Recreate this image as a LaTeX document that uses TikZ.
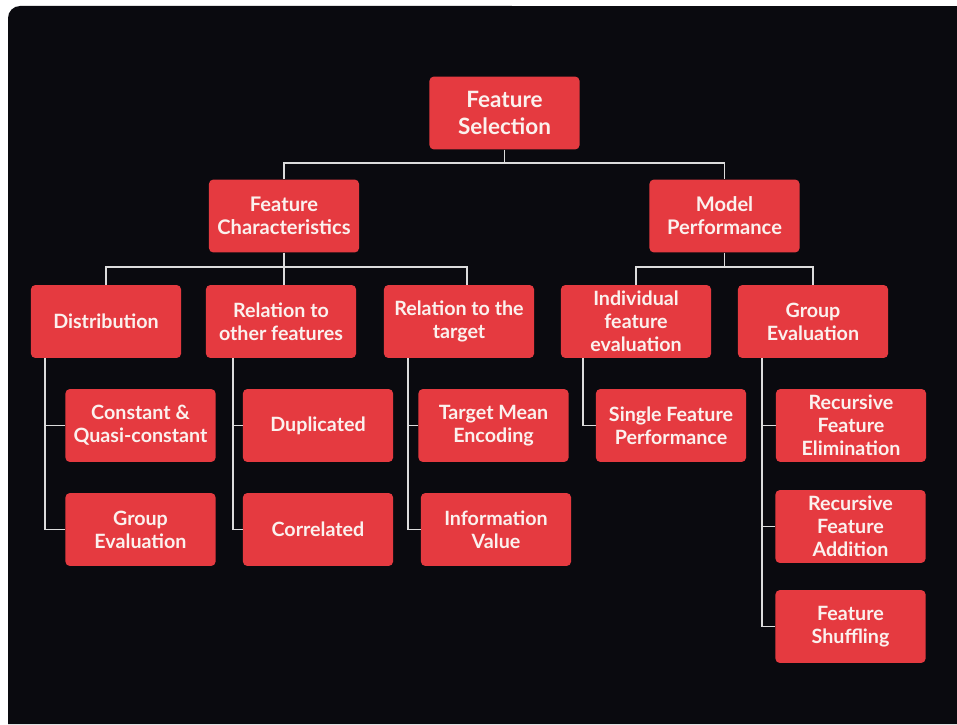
\documentclass[tikz,border=0pt]{standalone}
\usepackage{fontspec}
\setmainfont{Lato}
\usetikzlibrary{positioning,calc}
\definecolor{bgdark}{HTML}{0A0A0F}
\definecolor{boxred}{HTML}{E53A40}
\definecolor{boxtext}{HTML}{FBF1EE}
\definecolor{linkgray}{HTML}{DCDCDC}
\begin{document}
\begin{tikzpicture}[x=0.025cm, y=-0.025cm,
  box/.style={rectangle, rounded corners=3pt, fill=boxred, text=boxtext, align=center,
    minimum width=3.75cm, minimum height=1.82cm, inner sep=2pt, font=\bfseries\fontsize{14}{16.4}\selectfont},
  midbox/.style={box, font=\bfseries\fontsize{14.3}{16.4}\selectfont},
  topbox/.style={box, font=\bfseries\fontsize{16}{19.2}\selectfont},
  link/.style={linkgray, line width=1.4pt},
]
% Page and dark panel (pixel coordinates, y downwards)
\useasboundingbox (0,0) rectangle (957,724);
\fill[white] (0,0) rectangle (957,724);
\fill[bgdark] (8,724) -- (8,18) arc[start angle=180, end angle=90, radius=0.3cm] -- (957,6) -- (957,724) -- cycle;

% Level 0 and 1
\node[topbox] (fs) at (504.5,113) {Feature\\Selection};
\node[midbox] (fc) at (284,216) {Feature\\Characteristics};
\node[midbox] (mp) at (724.5,216) {Model\\Performance};

% Level 2
\node[box] (dist) at (106,321.5) {Distribution};
\node[box] (relo) at (281,321.5) {Relation to\\other features};
\node[box] (relt) at (459,321.5) {Relation to the\\target};
\node[box] (ind) at (636,321.5) {Individual\\feature\\evaluation};
\node[box] (grp) at (813,321.5) {Group\\Evaluation};

% Level 3
\node[box] (cq) at (140.5,425.5) {Constant \&\\Quasi-constant};
\node[box] (ge) at (140.5,529.5) {Group\\Evaluation};
\node[box] (dup) at (318,425.5) {Duplicated};
\node[box] (cor) at (318,529.5) {Correlated};
\node[box] (tme) at (493.5,425.5) {Target Mean\\Encoding};
\node[box] (iv) at (496,529.5) {Information\\Value};
\node[box] (sfp) at (671,425.5) {Single Feature\\Performance};
\node[box] (rfe) at (851,425.5) {Recursive\\Feature\\Elimination};
\node[box] (rfa) at (850.5,526.5) {Recursive\\Feature\\Addition};
\node[box] (fsh) at (850.5,626.5) {Feature\\Shuffling};

% Buses and spines
\coordinate (bus0) at (0,163);
\coordinate (bus1) at (0,267);
\coordinate (v1) at (45,0);
\coordinate (v2) at (233,0);
\coordinate (v3) at (408,0);
\coordinate (v4) at (583,0);
\coordinate (v5) at (762,0);

\draw[link] (fs.south) -- (fs.south |- bus0);
\draw[link] (fc.north) |- (fs.south |- bus0) -| (mp.north);

\draw[link] (fc.south) -- (fc.south |- relo.north);
\draw[link] (dist.north) |- (fc.south |- bus1) -| ([xshift=0.2cm]relt.north);

\draw[link] (mp.south) -- (mp.south |- bus1);
\draw[link] (ind.north) |- (mp.south |- bus1) -| (grp.north);

\draw[link] (dist.south -| v1) |- (cq.west);
\draw[link] (dist.south -| v1) |- (ge.west);
\draw[link] (relo.south -| v2) |- (dup.west);
\draw[link] (relo.south -| v2) |- (cor.west);
\draw[link] (relt.south -| v3) |- (tme.west);
\draw[link] (relt.south -| v3) |- (iv.west);
\draw[link] (ind.south -| v4) |- (sfp.west);
\draw[link] (grp.south -| v5) |- (rfe.west);
\draw[link] (grp.south -| v5) |- (rfa.west);
\draw[link] (grp.south -| v5) |- (fsh.west);
\end{tikzpicture}
\end{document}
